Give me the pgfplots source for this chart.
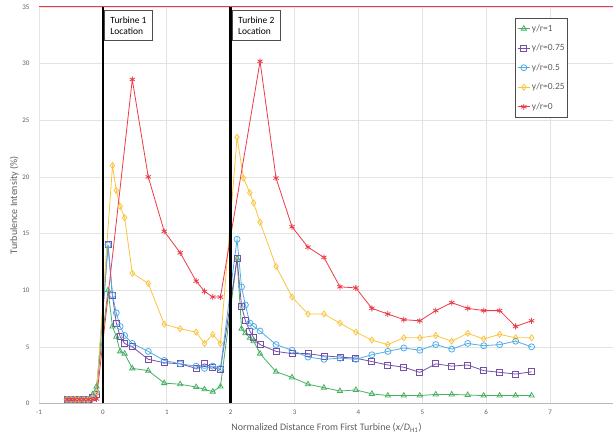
\documentclass[border=0pt]{standalone}
\usepackage{pgfplots}
\pgfplotsset{compat=1.18}
\usepackage{fontspec}
\setmainfont{Carlito}
\definecolor{cg}{RGB}{70,176,100}
\definecolor{cp}{RGB}{118,80,168}
\definecolor{cb}{RGB}{80,172,232}
\definecolor{cy}{RGB}{250,196,64}
\definecolor{cr}{RGB}{236,58,70}
\definecolor{txt}{RGB}{95,95,95}
\begin{document}
\begin{tikzpicture}[x=1bp,y=1bp]
\path[use as bounding box] (0,0) rectangle (613,437);
\begin{axis}[
  at={(39bp,33.5bp)}, anchor=south west,
  width=575bp, height=396.5bp, scale only axis,
  clip=false,
  xmin=-1, xmax=8, ymin=0, ymax=35,
  xtick={-1,0,...,7}, ytick={0,5,...,35},
  grid=major, major grid style={gray!22, line width=0.6bp},
  axis x line*=bottom, axis y line*=left,
  x axis line style={gray!55, line width=0.6bp},
  y axis line style={draw=none},
  tick style={draw=none},
  /pgf/number format/assume math mode=true,
  tick label style={font=\fontsize{7}{8}\selectfont, text=txt},
  yticklabel style={xshift=-6bp},
  xticklabel style={yshift=-3bp},
  xlabel={Normalized Distance From First Turbine (\textit{x}/\textit{D}\textsubscript{H1})},
  ylabel={Turbulence Intensity (\%)},
  label style={font=\fontsize{10}{12}\selectfont, text=txt},
  xlabel style={at={(axis description cs:0.5,0)}, anchor=center, yshift=-24.5bp},
  ylabel style={at={(axis description cs:-0.043,0.5)}, anchor=center},
  legend style={at={(axis description cs:0.92,0.9715)}, anchor=north east, draw=gray!60!black,
    font=\fontsize{9.5}{11.5}\selectfont, text=txt, row sep=7.5bp, inner xsep=1.5bp, inner ysep=4bp, line width=0.6bp,
    nodes={inner xsep=1.5bp}},
  legend cell align=left,
  legend image code/.code={\draw[mark repeat=2,mark phase=2,#1] plot coordinates {(0cm,0cm) (0.22cm,0cm) (0.44cm,0cm)};},
  every axis plot/.append style={line width=0.8bp, mark size=3bp},
]
% y/r = 1
\addplot[cg, mark=triangle, mark options={solid}] table {
x y
-0.56 0.3
-0.50 0.3
-0.44 0.3
-0.37 0.3
-0.30 0.3
-0.23 0.35
-0.16 0.8
-0.10 1.5
0.08 10.0
0.15 6.8
0.21 5.9
0.27 4.6
0.34 4.4
0.46 3.1
0.71 2.9
0.96 1.8
1.21 1.7
1.46 1.45
1.59 1.25
1.72 1.05
1.84 1.5
2.10 12.8
2.17 6.6
2.23 6.2
2.30 5.8
2.36 5.5
2.46 4.4
2.71 2.8
2.96 2.3
3.21 1.7
3.46 1.4
3.71 1.1
3.96 1.2
4.21 0.85
4.46 0.7
4.71 0.7
4.96 0.7
5.21 0.8
5.46 0.8
5.71 0.75
5.96 0.7
6.21 0.7
6.46 0.7
6.71 0.7
};
\addlegendentry{y/r=1}
% y/r = 0.75
\addplot[cp, mark=square, mark options={solid}] table {
x y
-0.56 0.35
-0.50 0.35
-0.44 0.35
-0.37 0.35
-0.30 0.35
-0.23 0.35
-0.16 0.5
-0.10 0.8
0.08 14.0
0.15 9.5
0.21 7.1
0.27 5.9
0.34 5.3
0.46 5.0
0.71 3.9
0.96 3.6
1.21 3.5
1.46 3.1
1.59 3.5
1.72 3.2
1.84 3.0
2.10 12.8
2.17 8.6
2.23 7.3
2.30 6.4
2.36 5.8
2.46 5.2
2.71 4.6
2.96 4.4
3.21 4.4
3.46 4.2
3.71 4.1
3.96 4.0
4.21 3.7
4.46 3.4
4.71 3.2
4.96 2.75
5.21 3.5
5.46 3.3
5.71 3.4
5.96 2.9
6.21 2.75
6.46 2.6
6.71 2.8
};
\addlegendentry{y/r=0.75}
% y/r = 0.5
\addplot[cb, mark=o, mark options={solid}] table {
x y
-0.56 0.35
-0.50 0.35
-0.44 0.35
-0.37 0.35
-0.30 0.35
-0.23 0.35
-0.16 0.5
-0.10 1.0
0.08 14.0
0.15 9.6
0.21 8.0
0.27 6.8
0.34 6.0
0.46 5.3
0.71 4.6
0.96 3.8
1.21 3.5
1.46 3.3
1.59 3.1
1.72 3.3
1.84 3.1
2.10 14.5
2.17 10.3
2.23 8.7
2.30 7.1
2.36 6.8
2.46 6.4
2.71 5.2
2.96 4.7
3.21 4.1
3.46 3.9
3.71 4.0
3.96 3.9
4.21 4.3
4.46 4.6
4.71 4.9
4.96 4.7
5.21 5.2
5.46 4.8
5.71 5.3
5.96 5.1
6.21 5.2
6.46 5.5
6.71 5.0
};
\addlegendentry{y/r=0.5}
% y/r = 0.25
\addplot[cy, mark=diamond, mark options={solid}] table {
x y
-0.56 0.35
-0.50 0.35
-0.44 0.35
-0.37 0.35
-0.30 0.35
-0.23 0.35
-0.16 0.5
-0.10 1.0
0.15 21.0
0.21 18.8
0.27 17.4
0.34 16.4
0.46 11.5
0.71 10.6
0.96 7.0
1.21 6.6
1.46 6.3
1.59 5.3
1.72 6.1
1.84 5.3
2.10 23.5
2.20 19.9
2.30 18.6
2.36 17.7
2.46 16.0
2.71 12.1
2.96 9.4
3.21 7.9
3.46 7.9
3.71 7.1
3.96 6.3
4.21 5.6
4.46 5.2
4.71 5.8
4.96 5.8
5.21 6.0
5.46 5.5
5.71 6.2
5.96 5.7
6.21 6.1
6.46 5.8
6.71 5.8
};
\addlegendentry{y/r=0.25}
% y/r = 0
\addplot[cr, mark=asterisk, mark options={solid}] table {
x y
-0.56 0.35
-0.50 0.35
-0.44 0.35
-0.37 0.35
-0.30 0.35
-0.23 0.35
-0.16 0.35
-0.10 0.4
0.46 28.6
0.71 20.0
0.96 15.2
1.21 13.3
1.46 10.8
1.59 9.9
1.72 9.4
1.84 9.4
2.46 30.2
2.71 19.9
2.96 15.6
3.21 13.8
3.46 12.9
3.71 10.3
3.96 10.2
4.21 8.4
4.46 7.9
4.71 7.4
4.96 7.3
5.21 8.2
5.46 8.9
5.71 8.4
5.96 8.2
6.21 8.2
6.46 6.8
6.71 7.3
};
\addlegendentry{y/r=0}
% turbine location lines and top border
\addplot[black, line width=2.4bp, forget plot] coordinates {(0,0) (0,35)};
\addplot[black, line width=2.4bp, forget plot] coordinates {(2,0) (2,35)};
\addplot[cr, line width=1bp, forget plot] coordinates {(-1,35) (8,35)};
\node[draw=gray!60!black, fill=white, anchor=north west, align=left,
  font=\fontsize{9.5}{11.5}\selectfont, inner xsep=6bp, inner ysep=6bp, line width=0.6bp]
  at (axis cs:0.02,34.7) {Turbine 1\\Location};
\node[draw=gray!60!black, fill=white, anchor=north west, align=left,
  font=\fontsize{9.5}{11.5}\selectfont, inner xsep=6bp, inner ysep=6bp, line width=0.6bp]
  at (axis cs:2.02,34.7) {Turbine 2\\Location};
\end{axis}
\end{tikzpicture}
\end{document}
